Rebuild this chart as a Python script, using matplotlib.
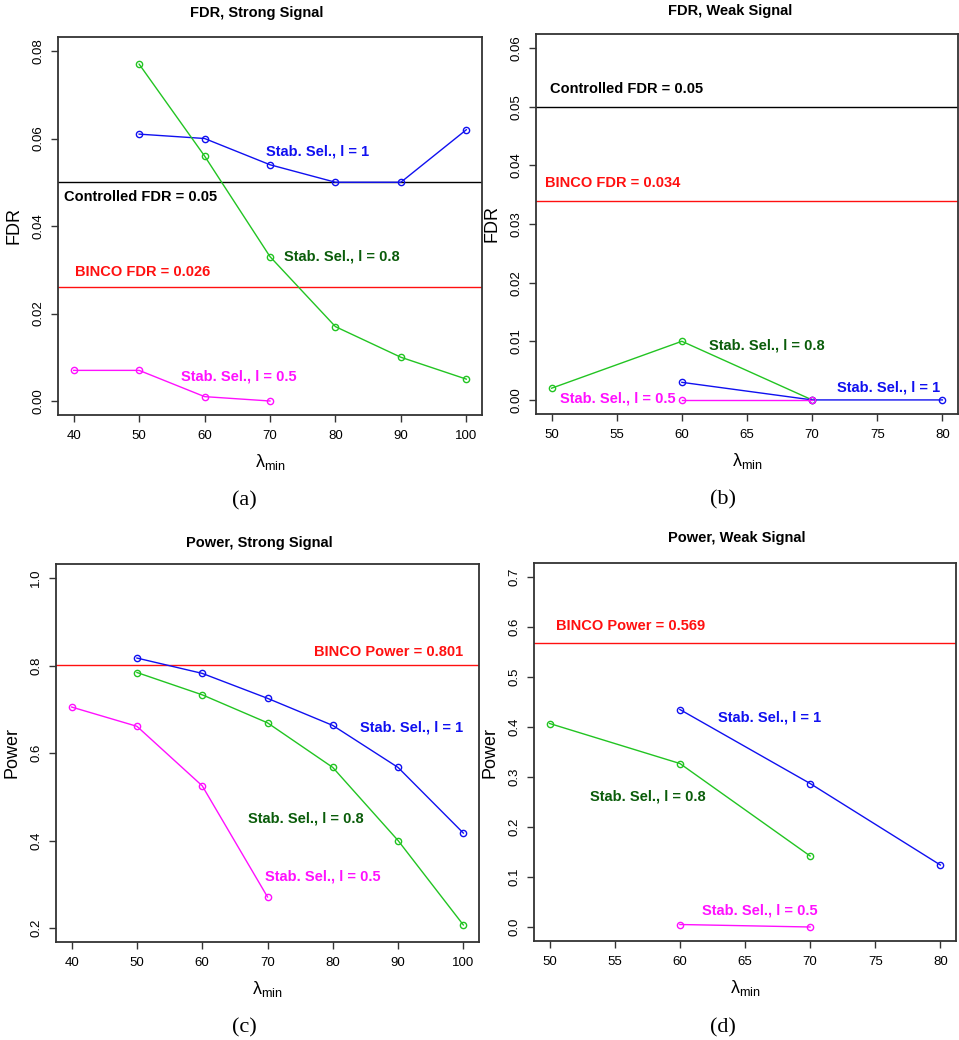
import matplotlib
matplotlib.use("Agg")
import matplotlib.pyplot as plt

plt.rcParams['font.family'] = ['Liberation Sans', 'DejaVu Sans']
plt.rcParams['mathtext.fontset'] = 'custom'
plt.rcParams['mathtext.rm'] = 'Liberation Sans'
plt.rcParams['mathtext.it'] = 'Liberation Sans'

# ---------------- data ----------------
# (a) FDR, strong signal
a_x1 = [50, 60, 70, 80, 90, 100]
a_l1 = [0.061, 0.060, 0.054, 0.050, 0.050, 0.062]
a_x08 = [50, 60, 70, 80, 90, 100]
a_l08 = [0.077, 0.056, 0.033, 0.017, 0.010, 0.005]
a_x05 = [40, 50, 60, 70]
a_l05 = [0.007, 0.007, 0.001, 0.000]
a_ctrl = 0.05
a_binco = 0.026

# (b) FDR, weak signal
b_x1 = [60, 70, 80]
b_l1 = [0.003, 0.000, 0.000]
b_x08 = [50, 60, 70]
b_l08 = [0.002, 0.010, 0.000]
b_x05 = [60, 70]
b_l05 = [0.000, 0.000]
b_ctrl = 0.05
b_binco = 0.034

# (c) Power, strong signal
c_x1 = [50, 60, 70, 80, 90, 100]
c_l1 = [0.817, 0.782, 0.725, 0.663, 0.567, 0.417]
c_x08 = [50, 60, 70, 80, 90, 100]
c_l08 = [0.784, 0.733, 0.669, 0.567, 0.400, 0.207]
c_x05 = [40, 50, 60, 70]
c_l05 = [0.705, 0.661, 0.525, 0.271]
c_binco = 0.801

# (d) Power, weak signal
d_x1 = [60, 70, 80]
d_l1 = [0.435, 0.287, 0.124]
d_x08 = [50, 60, 70]
d_l08 = [0.407, 0.327, 0.142]
d_x05 = [60, 70]
d_l05 = [0.005, 0.000]
d_binco = 0.569

a_xticks = [40, 50, 60, 70, 80, 90, 100]
a_yticks = [0.00, 0.02, 0.04, 0.06, 0.08]
b_xticks = [50, 55, 60, 65, 70, 75, 80]
b_yticks = [0.00, 0.01, 0.02, 0.03, 0.04, 0.05, 0.06]
c_xticks = [40, 50, 60, 70, 80, 90, 100]
c_yticks = [0.2, 0.4, 0.6, 0.8, 1.0]
d_xticks = [50, 55, 60, 65, 70, 75, 80]
d_yticks = [0.0, 0.1, 0.2, 0.3, 0.4, 0.5, 0.6, 0.7]

# ---------------- style ----------------
BLUE = '#1010F0'
GREEN = '#22C422'
DKGREEN = '#0A5C0A'
MAG = '#FF10FF'
RED = '#FF1010'
W, H = 959, 1040

fig = plt.figure(figsize=(W / 100, H / 100), dpi=100)


def box(l, r, t, b):
    return [l / W, 1 - b / H, (r - l) / W, (b - t) / H]


def setup(ax, xticks, yticks, xlim, ylim, ylabel, yfmt):
    ax.set_xlim(*xlim)
    ax.set_ylim(*ylim)
    ax.set_xticks(xticks)
    ax.set_yticks(yticks)
    ax.set_xticklabels([str(v) for v in xticks])
    ax.set_yticklabels([yfmt.format(v) for v in yticks])
    ax.tick_params(direction='out', length=5, width=1, color='#333333',
                   labelsize=9.5, pad=6)
    ax.tick_params(axis='y', labelrotation=90, pad=5)
    for lab in ax.get_yticklabels():
        lab.set_va('center')
    for s in ax.spines.values():
        s.set_color('#333333')
        s.set_linewidth(1.3)
    ax.set_ylabel(ylabel, fontsize=13, labelpad=7)
    ax.set_xlabel(r'$\mathrm{\lambda}_{\mathrm{min}}$', fontsize=13, labelpad=7)


def series(ax, x, y, color):
    ax.plot(x, y, color=color, lw=1.0, marker='o', ms=4.5,
            mfc='none', mec=color, mew=1.0, zorder=3)


def ext(lo, hi):
    d = (hi - lo) * 0.04
    return (lo - d, hi + d)


TXT = dict(fontsize=10.5, fontweight='bold')

# (a)
ax = fig.add_axes(box(58, 482, 37, 415))
series(ax, a_x1, a_l1, BLUE)
series(ax, a_x08, a_l08, GREEN)
series(ax, a_x05, a_l05, MAG)
ax.axhline(a_ctrl, color='black', lw=1.0)
ax.axhline(a_binco, color=RED, lw=1.0)
setup(ax, a_xticks, a_yticks, ext(40, 100), ext(0, 0.08), 'FDR', '{:.2f}')
ax.text(77.3, 0.0571, 'Stab. Sel., l = 1', color=BLUE, ha='center', va='center', **TXT)
ax.text(38.5, 0.0466, 'Controlled FDR = 0.05', color='black', ha='left', va='center', **TXT)
ax.text(40.2, 0.0295, 'BINCO FDR = 0.026', color=RED, ha='left', va='center', **TXT)
ax.text(80.9, 0.0331, 'Stab. Sel., l = 0.8', color=DKGREEN, ha='center', va='center', **TXT)
ax.text(65.2, 0.0057, 'Stab. Sel., l = 0.5', color=MAG, ha='center', va='center', **TXT)

# (b)
ax = fig.add_axes(box(536, 958, 34, 414))
series(ax, b_x08, b_l08, GREEN)
series(ax, b_x1, b_l1, BLUE)
series(ax, b_x05, b_l05, MAG)
ax.axhline(b_ctrl, color='black', lw=1.0)
ax.axhline(b_binco, color=RED, lw=1.0)
setup(ax, b_xticks, b_yticks, ext(50, 80), ext(0, 0.06), 'FDR', '{:.2f}')
ax.text(49.9, 0.0531, 'Controlled FDR = 0.05', color='black', ha='left', va='center', **TXT)
ax.text(49.5, 0.0370, 'BINCO FDR = 0.034', color=RED, ha='left', va='center', **TXT)
ax.text(66.5, 0.0093, 'Stab. Sel., l = 0.8', color=DKGREEN, ha='center', va='center', **TXT)
ax.text(75.9, 0.0021, 'Stab. Sel., l = 1', color=BLUE, ha='center', va='center', **TXT)
ax.text(59.5, 0.0002, 'Stab. Sel., l = 0.5', color=MAG, ha='right', va='center', **TXT)

# (c)
ax = fig.add_axes(box(56, 479, 564, 942))
series(ax, c_x1, c_l1, BLUE)
series(ax, c_x08, c_l08, GREEN)
series(ax, c_x05, c_l05, MAG)
ax.axhline(c_binco, color=RED, lw=1.0)
setup(ax, c_xticks, c_yticks, ext(40, 100), ext(0.2, 1.0), 'Power', '{:.1f}')
ax.text(100, 0.832, 'BINCO Power = 0.801', color=RED, ha='right', va='center', **TXT)
ax.text(100, 0.659, 'Stab. Sel., l = 1', color=BLUE, ha='right', va='center', **TXT)
ax.text(75.9, 0.450, 'Stab. Sel., l = 0.8', color=DKGREEN, ha='center', va='center', **TXT)
ax.text(78.4, 0.317, 'Stab. Sel., l = 0.5', color=MAG, ha='center', va='center', **TXT)

# (d)
ax = fig.add_axes(box(534, 956, 563, 941))
series(ax, d_x1, d_l1, BLUE)
series(ax, d_x08, d_l08, GREEN)
series(ax, d_x05, d_l05, MAG)
ax.axhline(d_binco, color=RED, lw=1.0)
setup(ax, d_xticks, d_yticks, ext(50, 80), ext(0.0, 0.7), 'Power', '{:.1f}')
ax.text(50.5, 0.602, 'BINCO Power = 0.569', color=RED, ha='left', va='center', **TXT)
ax.text(66.9, 0.420, 'Stab. Sel., l = 1', color=BLUE, ha='center', va='center', **TXT)
ax.text(57.5, 0.261, 'Stab. Sel., l = 0.8', color=DKGREEN, ha='center', va='center', **TXT)
ax.text(66.1, 0.033, 'Stab. Sel., l = 0.5', color=MAG, ha='center', va='center', **TXT)

# titles and captions
TT = dict(fontsize=10.5, fontweight='bold', ha='center', va='center')
fig.text(257 / W, 1 - 13 / H, 'FDR, Strong Signal', **TT)
fig.text(730 / W, 1 - 11 / H, 'FDR, Weak Signal', **TT)
fig.text(259 / W, 1 - 543 / H, 'Power, Strong Signal', **TT)
fig.text(737 / W, 1 - 538 / H, 'Power, Weak Signal', **TT)

CAP = dict(fontsize=16, family='Liberation Serif', ha='center', va='center')
fig.text(244 / W, 1 - 501 / H, '(a)', **CAP)
fig.text(723 / W, 1 - 500 / H, '(b)', **CAP)
fig.text(244 / W, 1 - 1028 / H, '(c)', **CAP)
fig.text(723 / W, 1 - 1028 / H, '(d)', **CAP)

fig.savefig('out.png', dpi=100, facecolor='white')
